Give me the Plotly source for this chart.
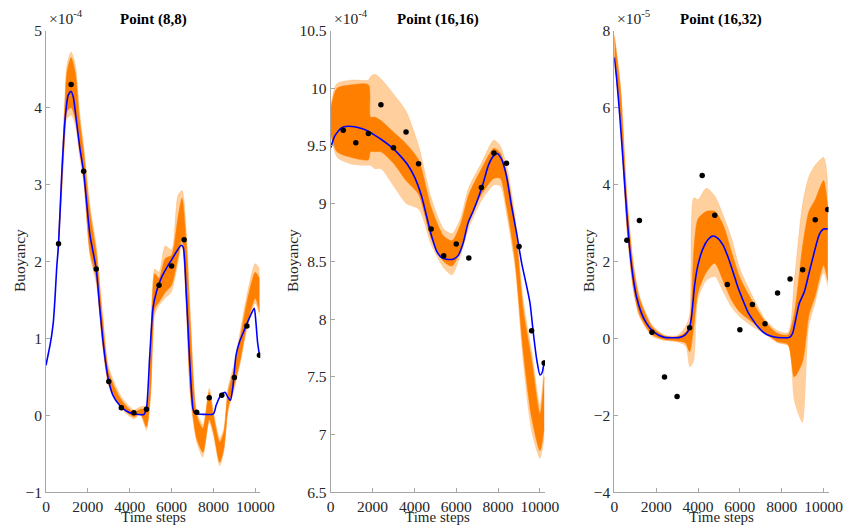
import plotly.graph_objects as go

W, H = 844, 526
FONT = "Liberation Serif, Times New Roman, serif"
ORANGE = "rgb(255,128,0)"
LIGHT = "rgba(255,150,40,0.45)"
BLUE = "rgb(0,0,255)"

# ---------------- data (values in units of the axis exponent) ----------------
titles = ["Point (8,8)", "Point (16,16)", "Point (16,32)"]
exponents = ["-4", "-4", "-5"]
x_ticks = [0, 2000, 4000, 6000, 8000, 10000]
x_tick_text = ["0", "2000", "4000", "6000", "8000", "10000"]

obs_t = [600, 1200, 1800, 2400, 3000, 3600, 4200, 4800, 5400, 6000, 6600,
         7200, 7800, 8400, 9000, 9600, 10200]

# Point (8,8)
obs1 = [2.23, 4.30, 3.17, 1.90, 0.44, 0.10, 0.035, 0.08, 1.69, 1.94, 2.28,
        0.04, 0.23, 0.26, 0.49, 1.16, 0.78]
mean_t1 = [0, 110, 190, 270, 350, 430, 510, 600, 750, 900, 1060, 1190, 1300, 1460,
           1620, 1800, 1940, 2100, 2400, 2570, 2730, 2890, 3000, 3200, 3520, 3840,
           4160, 4480, 4670, 4800, 4950, 5110, 5270, 5500, 5750, 6000, 6220, 6460,
           6560, 6700, 6860, 7020, 7100, 8000, 8130, 8370, 8560, 8680, 8810, 8920,
           9080, 9240, 9480, 9710, 9950, 10030, 10110, 10200]
mean1 = [0.65, 0.80, 0.91, 1.04, 1.21, 1.52, 1.91, 2.23, 3.12, 3.81, 4.16, 4.21, 4.14,
         3.81, 3.47, 3.16, 2.77, 2.34, 1.90, 1.39, 0.95, 0.61, 0.44, 0.26, 0.13,
         0.056, 0.02, 0.01, 0.01, 0.09, 0.74, 1.39, 1.60, 1.78, 1.91, 2.02, 2.12,
         2.21, 2.18, 1.60, 0.74, 0.09, 0.03, 0.02, 0.13, 0.27, 0.30, 0.24, 0.195,
         0.35, 0.78, 0.95, 1.11, 1.26, 1.39, 1.21, 0.95, 0.78]
band_t1 = [560, 700, 900, 1000, 1200, 1400, 1600, 1800, 2100, 2400, 2700, 3000, 3600,
           4200, 4500, 4800, 5000, 5100, 5200, 5400, 5700, 6000, 6300, 6500, 6700,
           6900, 7200, 7500, 7800, 8000, 8300, 8500, 8700, 9000, 9300, 9600, 10000,
           10200]
band_lo1 = [2.05, 2.65, 3.65, 3.95, 4.0, 3.85, 3.45, 3.08, 2.12, 1.78, 0.95, 0.41, 0.11,
            -0.02, 0.03, -0.15, 0.3, 1.0, 1.39, 1.47, 1.60, 1.69, 2.04, 2.30, 1.47,
            0.30, -0.30, -0.48, -0.05, -0.22, -0.61, -0.43, 0.09, 0.39, 0.74, 1.17,
            1.52, 1.34]
band_hi1 = [2.1, 2.85, 4.0, 4.45, 4.65, 4.45, 3.85, 3.42, 2.64, 2.12, 1.26, 0.56, 0.2,
            0.04, 0.08, 0.09, 0.9, 1.6, 1.84, 1.78, 2.04, 2.08, 2.56, 2.82, 2.25, 1.17,
            0.0, -0.17, 0.30, 0.0, -0.35, -0.22, 0.30, 0.61, 1.04, 1.47, 1.86, 1.78]
spread_lo1 = [2.05, 2.6, 3.55, 3.85, 3.9, 3.75, 3.35, 3.0, 2.05, 1.7, 0.88, 0.36, 0.08,
              -0.05, 0.0, -0.2, 0.2, 0.9, 1.3, 1.42, 1.52, 1.6, 1.95, 2.2, 1.35, 0.2,
              -0.36, -0.55, -0.1, -0.28, -0.66, -0.5, 0.03, 0.33, 0.68, 1.1, 1.45, 1.28]
spread_hi1 = [2.1, 2.9, 4.1, 4.55, 4.72, 4.55, 3.95, 3.5, 2.72, 2.2, 1.33, 0.62, 0.24,
              0.07, 0.11, 0.13, 1.0, 1.7, 1.9, 1.86, 2.2, 2.15, 2.85, 2.92, 2.4, 1.3,
              0.05, -0.12, 0.35, 0.05, -0.3, -0.17, 0.36, 0.68, 1.12, 1.56, 1.97, 1.9]

# Point (16,16)
obs2 = [9.637, 9.527, 9.608, 9.856, 9.484, 9.62, 9.346, 8.78, 8.55, 8.65, 8.53,
        9.14, 9.44, 9.35, 8.63, 7.90, 7.62]
mean_t2 = [0, 190, 510, 830, 1150, 1470, 1790, 2100, 2420, 2740, 3060, 3380, 3700,
           4020, 4340, 4580, 4820, 5060, 5300, 5530, 5850, 6090, 6330, 6570, 6810,
           7050, 7290, 7530, 7770, 7960, 8170, 8400, 8640, 8880, 9120, 9360, 9520,
           9680, 9840, 10000, 10110, 10200]
mean2 = [9.484, 9.585, 9.657, 9.671, 9.666, 9.651, 9.628, 9.594, 9.556, 9.513, 9.464,
         9.403, 9.331, 9.225, 9.066, 8.893, 8.72, 8.59, 8.533, 8.519, 8.519, 8.55,
         8.66, 8.836, 8.937, 9.05, 9.18, 9.33, 9.412, 9.435, 9.383, 9.239, 8.98,
         8.749, 8.49, 8.288, 8.144, 7.885, 7.654, 7.516, 7.54, 7.64]
band_t2 = [0, 300, 1000, 1800, 1900, 2100, 2400, 3000, 3600, 4200, 4800, 5400, 5800,
           6200, 6600, 7200, 7800, 8100, 8400, 8800, 9200, 9600, 10000, 10200]
band_lo2 = [9.6, 9.45, 9.4, 9.38, 9.45, 9.45, 9.45, 9.35, 9.2, 9.08, 8.7, 8.5, 8.46,
            8.6, 8.86, 9.08, 9.22, 9.22, 8.98, 8.52, 7.72, 7.15, 6.86, 7.05]
band_hi2 = [9.82, 10.0, 10.03, 10.03, 9.75, 9.75, 9.72, 9.62, 9.52, 9.38, 8.97, 8.72,
            8.68, 8.82, 9.08, 9.3, 9.48, 9.44, 9.27, 8.83, 8.08, 7.65, 7.18, 7.5]
spread_lo2 = [9.58, 9.4, 9.34, 9.33, 9.33, 9.3, 9.3, 9.15, 9.0, 8.95, 8.64, 8.44,
              8.38, 8.54, 8.78, 9.02, 9.16, 9.15, 8.9, 8.44, 7.6, 7.02, 6.79, 6.95]
spread_hi2 = [9.84, 10.04, 10.07, 10.07, 10.1, 10.12, 10.08, 9.95, 9.8, 9.5, 9.05,
              8.78, 8.74, 8.87, 9.14, 9.35, 9.55, 9.5, 9.33, 8.9, 8.16, 7.72, 7.25,
              7.6]

# Point (16,32)
obs3 = [2.55, 3.06, 0.156, -1.005, -1.51, 0.277, 4.23, 3.20, 1.40, 0.225, 0.88,
        0.38, 1.18, 1.54, 1.78, 3.08, 3.35]
mean_t3 = [0, 110, 270, 430, 590, 750, 905, 1060, 1300, 1540, 1780, 2100, 2410, 2810,
           3130, 3370, 3560, 3680, 3840, 4000, 4240, 4480, 4710, 4950, 5190, 5430,
           5670, 5900, 6140, 6380, 6620, 6860, 7100, 7330, 7650, 7970, 8370, 8520,
           8680, 8840, 9080, 9320, 9560, 9790, 10000, 10200]
mean3 = [7.30, 6.76, 5.72, 4.51, 3.29, 2.25, 1.56, 1.08, 0.65, 0.39, 0.22, 0.087,
         0.026, 0.017, 0.026, 0.087, 0.22, 0.52, 1.39, 1.91, 2.34, 2.57, 2.66, 2.60,
         2.43, 2.12, 1.73, 1.34, 1.0, 0.69, 0.48, 0.30, 0.17, 0.087, 0.035, 0.017,
         0.026, 0.13, 0.52, 0.91, 1.21, 1.73, 2.25, 2.69, 2.84, 2.84]
band_t3 = [0, 300, 600, 900, 1200, 1800, 2400, 3000, 3400, 3600, 3800, 4000, 4400,
           4800, 5200, 5600, 6000, 6600, 7200, 7800, 8300, 8600, 9000, 9300, 9600,
           10000, 10200]
band_lo3 = [7.3, 5.65, 2.9, 1.35, 0.62, 0.1, -0.03, -0.07, -0.12, -0.35, 0.3, 1.2,
            1.72, 1.95, 1.5, 1.0, 0.68, 0.42, 0.15, -0.09, -0.16, -1.0, -0.6, 0.6,
            1.1, 1.9, 1.5]
band_hi3 = [7.85, 6.4, 3.6, 1.9, 1.04, 0.3, 0.06, 0.04, 0.16, 0.35, 2.3, 3.1, 3.3,
            3.3, 2.95, 2.25, 1.58, 0.96, 0.44, 0.13, 0.09, 0.65, 2.4, 3.3, 3.6, 4.1,
            3.4]
spread_lo3 = [7.25, 5.55, 2.8, 1.25, 0.55, 0.05, -0.06, -0.1, -0.2, -0.75, -0.6, 1.0,
              1.5, 1.6, 1.2, 0.8, 0.55, 0.3, 0.1, -0.12, -0.2, -1.65, -2.2, 0.3, 0.9,
              1.7, 1.3]
spread_hi3 = [7.9, 6.55, 3.75, 2.0, 1.1, 0.35, 0.09, 0.07, 0.3, 0.6, 3.65, 3.6, 3.9,
              3.7, 3.2, 2.6, 1.8, 1.1, 0.5, 0.2, 0.15, 1.5, 3.5, 4.2, 4.5, 4.7, 4.0]

panels = [
    dict(obs=obs1, mt=mean_t1, m=mean1, bt=band_t1, lo=band_lo1, hi=band_hi1,
         slo=spread_lo1, shi=spread_hi1, yr=[-1, 5], dt=1, px=(46, 260.3)),
    dict(obs=obs2, mt=mean_t2, m=mean2, bt=band_t2, lo=band_lo2, hi=band_hi2,
         slo=spread_lo2, shi=spread_hi2, yr=[6.5, 10.5], dt=0.5, px=(330.7, 545)),
    dict(obs=obs3, mt=mean_t3, m=mean3, bt=band_t3, lo=band_lo3, hi=band_hi3,
         slo=spread_lo3, shi=spread_hi3, yr=[-4, 8], dt=2, px=(614.3, 828.6)),
]

TOP, BOT = 30.5, 492.3
fig = go.Figure()
layout = dict(width=W, height=H, margin=dict(l=0, r=0, t=0, b=0, autoexpand=False),
              paper_bgcolor="white", plot_bgcolor="white", showlegend=False,
              font=dict(family=FONT, size=15, color="#262626"))
annotations = []

for i, p in enumerate(panels):
    sfx = "" if i == 0 else str(i + 1)
    xa, ya = "x" + sfx, "y" + sfx
    common = dict(xaxis=xa, yaxis=ya, hoverinfo="skip")
    sm = dict(shape="spline", smoothing=0.7)
    # light ensemble spread
    fig.add_trace(go.Scatter(x=p["bt"], y=p["slo"], mode="lines",
                             line=dict(width=0, color=LIGHT, **sm), **common))
    fig.add_trace(go.Scatter(x=p["bt"], y=p["shi"], mode="lines", fill="tonexty",
                             fillcolor=LIGHT, line=dict(width=0.6, color=LIGHT, **sm),
                             **common))
    # dense ensemble core
    fig.add_trace(go.Scatter(x=p["bt"], y=p["lo"], mode="lines",
                             line=dict(width=0.5, color=ORANGE, **sm), **common))
    fig.add_trace(go.Scatter(x=p["bt"], y=p["hi"], mode="lines", fill="tonexty",
                             fillcolor=ORANGE, line=dict(width=0.5, color=ORANGE, **sm),
                             **common))
    # ensemble mean
    fig.add_trace(go.Scatter(x=p["mt"], y=p["m"], mode="lines",
                             line=dict(width=1.6, color=BLUE, shape="spline",
                                       smoothing=0.6), **common))
    # observations
    fig.add_trace(go.Scatter(x=obs_t, y=p["obs"], mode="markers",
                             marker=dict(size=5.5, color="black"), **common))

    x0, x1 = p["px"]
    dom_x = [x0 / W, x1 / W]
    dom_y = [1 - BOT / H, 1 - TOP / H]
    axis_common = dict(showline=True, linecolor="#a6a6a6", linewidth=1,
                       ticks="inside", ticklen=4, tickcolor="#a6a6a6",
                       showgrid=False, zeroline=False, mirror=False,
                       automargin=False,
                       tickfont=dict(family=FONT, size=15.5, color="#262626"))
    layout["xaxis" + sfx] = dict(domain=dom_x, range=[0, 10240], anchor=ya,
                                 tickvals=x_ticks, ticktext=x_tick_text,
                                 ticklabelstandoff=0, **axis_common)
    nt = int(round((p["yr"][1] - p["yr"][0]) / p["dt"])) + 1
    yt = [p["yr"][0] + k * p["dt"] for k in range(nt)]
    layout["yaxis" + sfx] = dict(domain=dom_y, range=p["yr"], anchor=xa,
                                 tickvals=yt, **axis_common)

    cx = (x0 + x1) / 2 / W
    annotations.append(dict(text="<b>" + titles[i] + "</b>", x=cx, y=1 - 20 / H,
                            xref="paper", yref="paper", showarrow=False,
                            xanchor="center", yanchor="middle",
                            font=dict(family=FONT, size=15, color="black")))
    annotations.append(dict(text="×10<sup>" + exponents[i] + "</sup>",
                            x=(x0 + 1) / W, y=1 - 29 / H, xref="paper", yref="paper",
                            showarrow=False, xanchor="left", yanchor="bottom",
                            font=dict(family=FONT, size=15.5, color="#262626")))
    annotations.append(dict(text="Time steps", x=cx,
                            y=1 - 517 / H, xref="paper", yref="paper",
                            showarrow=False, xanchor="center", yanchor="middle",
                            borderpad=0,
                            font=dict(family=FONT, size=15, color="#262626")))
    ylab_x = [19, 292, 588][i]
    annotations.append(dict(text="Buoyancy", x=ylab_x / W, y=1 - 261 / H,
                            xref="paper", yref="paper", showarrow=False,
                            textangle=-90, xanchor="center", yanchor="middle",
                            font=dict(family=FONT, size=15.5, color="#262626")))

layout["annotations"] = annotations
fig.update_layout(**layout)
fig.write_html("out.html")
